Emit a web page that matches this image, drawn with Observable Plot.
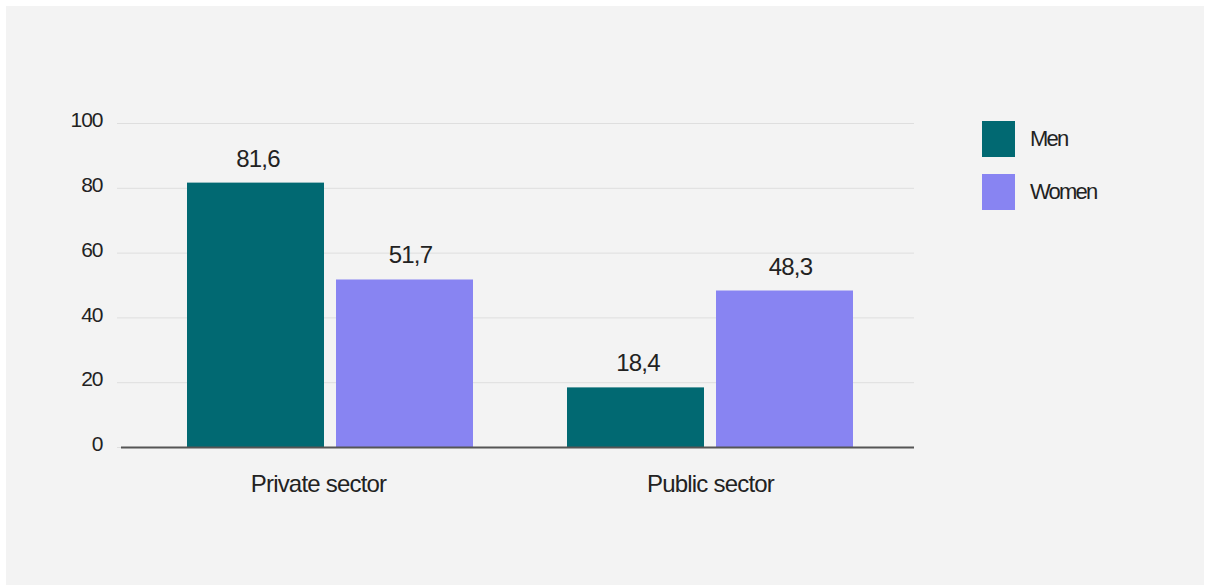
<!DOCTYPE html>
<html>
<head>
<meta charset="utf-8">
<script src="https://cdn.jsdelivr.net/npm/d3@7"></script>
<script src="https://cdn.jsdelivr.net/npm/@observablehq/plot@0.6"></script>
<style>
  html, body { margin: 0; padding: 0; background: #ffffff; }
  body { width: 1211px; height: 585px; position: relative; overflow: hidden; font-family: "Liberation Sans", Arial, sans-serif; }
  #panel { position: absolute; left: 6px; top: 6px; width: 1198px; height: 590px; background: #f3f3f3; }
  #chart { position: absolute; left: 0; top: 0; }
  #chart svg text { letter-spacing: -0.8px; }
  #chart svg g[aria-label="y-axis tick label"] text { letter-spacing: -1px; }
  .legend-item { position: absolute; left: 982px; display: flex; align-items: center; }
  .swatch { width: 33px; height: 36px; }
  .legend-label { margin-left: 15px; font-size: 22px; color: #222; letter-spacing: -1.8px; }
</style>
</head>
<body>
<div id="panel"></div>
<div id="chart"></div>
<div id="legend"></div>
<script>
const sectors = ["Private sector", "Public sector"];
const series = ["Men", "Women"];
const menValues = [81.6, 18.4];
const womenValues = [51.7, 48.3];
const yTicks = [0, 20, 40, 60, 80, 100];
const colors = ["#016972", "#8884f2"];

const rows = [];
sectors.forEach((s, i) => {
  rows.push({sector: s, series: "Men", value: menValues[i]});
  rows.push({sector: s, series: "Women", value: womenValues[i]});
});
const fmt = v => v.toFixed(1).replace(".", ",");
const menRows = rows.filter(d => d.series === "Men");
const womenRows = rows.filter(d => d.series === "Women");

const chart = Plot.plot({
  width: 1211,
  height: 585,
  marginLeft: 121,
  marginRight: 297,
  marginTop: 123,
  marginBottom: 138,
  style: {background: "transparent", fontFamily: "'Liberation Sans', Arial, sans-serif", fontSize: "22px", color: "#222"},
  x: {domain: sectors, paddingInner: 0.2474, paddingOuter: 0.167, align: 0.52, label: null},
  y: {domain: [0, 100], label: null},
  color: {domain: series, range: colors},
  marks: [
    Plot.gridY(yTicks, {stroke: "#dedede", strokeOpacity: 1, strokeWidth: 1, insetLeft: -4}),
    Plot.axisY(yTicks, {tickSize: 0, tickPadding: 19, dy: -3, fontSize: 21, fill: "#222", label: null}),
    Plot.axisX({ticks: [sectors[0]], tickSize: 0, tickPadding: 27, dx: -12, fontSize: 24, fill: "#222", label: null}),
    Plot.axisX({ticks: [sectors[1]], tickSize: 0, tickPadding: 27, fontSize: 24, fill: "#222", label: null}),
    Plot.barY(menRows, {x: "sector", y: "value", fill: "series", insetRight: 149}),
    Plot.barY(womenRows, {x: "sector", y: "value", fill: "series", insetLeft: 149}),
    Plot.ruleY([0], {stroke: "#555555", strokeWidth: 2}),
    Plot.text(menRows, {x: "sector", y: "value", text: d => fmt(d.value), dx: -72.5, dy: -16.5, lineAnchor: "bottom", fontSize: 24, fill: "#222"}),
    Plot.text(womenRows, {x: "sector", y: "value", text: d => fmt(d.value), dx: 80, dy: -16.5, lineAnchor: "bottom", fontSize: 24, fill: "#222"})
  ]
});
document.getElementById("chart").appendChild(chart);

const legend = document.getElementById("legend");
series.forEach((s, i) => {
  const item = document.createElement("div");
  item.className = "legend-item";
  item.style.top = (121 + i * 53) + "px";
  const sw = document.createElement("div");
  sw.className = "swatch";
  sw.style.background = colors[i];
  const lab = document.createElement("span");
  lab.className = "legend-label";
  lab.textContent = s;
  item.appendChild(sw);
  item.appendChild(lab);
  legend.appendChild(item);
});
</script>
</body>
</html>
